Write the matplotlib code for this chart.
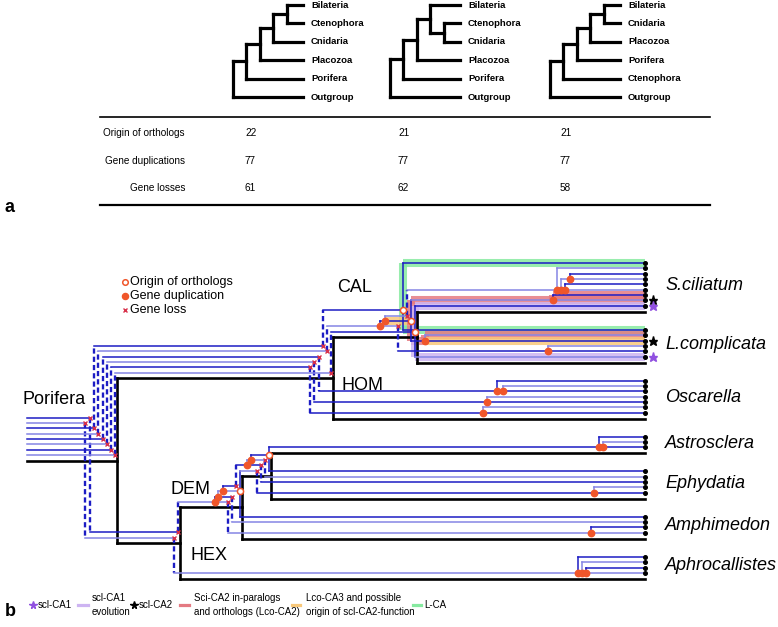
import matplotlib.pyplot as plt

plt.rcParams['font.family'] = ['Liberation Sans', 'DejaVu Sans']

# ---------------- panel a: three species trees + event table ----------------
tree_a1 = ((((('Bilateria', 'Ctenophora'), 'Cnidaria'), 'Placozoa'), 'Porifera'), 'Outgroup')
tree_a2 = (((('Bilateria', ('Ctenophora', 'Cnidaria')), 'Placozoa'), 'Porifera'), 'Outgroup')
tree_a3 = ((((('Bilateria', 'Cnidaria'), 'Placozoa'), 'Porifera'), 'Ctenophora'), 'Outgroup')
row_labels = ['Origin of orthologs', 'Gene duplications', 'Gene losses']
origin_counts = [22, 21, 21]
dup_counts = [77, 77, 77]
loss_counts = [61, 62, 58]

# ---------------- panel b: reconciled gene tree ----------------
# species tree: (name, upper child, lower child)
species_tree = ('Porifera',
                ('HC', ('CAL', 'S.ciliatum', 'L.complicata'), 'Oscarella'),
                ('DH', ('DEM', ('AE', 'Astrosclera', 'Ephydatia'), 'Amphimedon'), 'Aphrocallistes'))
clade_labels = ['Porifera', 'CAL', 'HOM', 'DEM', 'HEX']


# gene tree building blocks: tip, duplication (at x), speciation (upper child, lower child; None = loss)
def tip(mark=None, hl=None):
    return dict(k='T', mark=mark, hl=hl)


def dup(x, a, b, hl=None):
    return dict(k='D', x=x, a=a, b=b, hl=hl)


def spec(up, low, hl=None):
    return dict(k='S', up=up, low=low, hl=hl)


# calcarea
sci_paralogs = dup(557, tip(), dup(561, dup(570, tip(), tip()), dup(565, tip(), tip())))
cal_lca = spec(tip(hl='green'), tip(hl='green'))
cal_ca2 = spec(dup(553, tip(), tip('star'), hl='red'),
               dup(425, tip(), tip('star', hl='orange'), hl='red'), hl='orange')
cal_lco = spec(None, dup(548, tip(), tip()))
cal_ca1 = spec(tip('pstar', hl='purple'), tip('pstar', hl='purple'))
cal_family = dup(380, dup(385, spec(sci_paralogs, None), cal_ca2), cal_lco)
# homoscleromorpha
osc1 = dup(497, tip(), dup(503, tip(), tip()))
osc2 = dup(487, tip(), tip())
osc3 = dup(483, tip(), tip())
# demospongiae
astro = dup(599, tip(), dup(603, tip(), tip()))
ae_family = dup(247, dup(251, spec(astro, tip()), spec(None, tip())), spec(None, tip()))
dem_family = dup(215, dup(218, dup(223, spec(ae_family, None),
                                   spec(spec(None, dup(594, tip(), tip())), tip())),
                              spec(None, tip())),
                 spec(None, dup(591, tip(), tip())))
# hexactinellida
hex_family = dup(578, tip(), dup(582, tip(), dup(586, tip(), tip())))

hc_genes = [spec(cal_lca, None), spec(cal_family, None), spec(None, osc1),
            spec(None, osc2), spec(None, osc3), spec(cal_ca1, None)]
root_genes = [spec(None, spec(dem_family, None)), spec(None, spec(None, hex_family))] + \
             [spec(h, None) for h in hc_genes]

# ---------------- layout constants ----------------
S = 5.35
TIP_X = 645
ROOT_X0 = 27
node_x = {'Porifera': 117, 'HC': 333, 'CAL': 417, 'DH': 180, 'DEM': 242, 'AE': 271}
label_pos = {'Porifera': (23, 400), 'CAL': (337, 288), 'HOM': (342, 385),
             'DEM': (171, 489), 'HEX': (191, 556)}
DARK = '#1c1cc4'
LIGHT = '#8585e4'
DUPC = '#f0562a'
BAND = {'green': '#86eaa0', 'red': '#e47a82', 'orange': '#f8c87a', 'purple': '#cdb4f2'}
PURPLE = '#9050e0'

fig = plt.figure(figsize=(7.78, 6.27), dpi=100)
ax = fig.add_axes([0, 0, 1, 1])
ax.set_xlim(0, 778)
ax.set_ylim(627, 0)
ax.axis('off')


# ---------- panel a ----------
def draw_small_tree(tree, root_x, step=13.5, width=70):
    leaves = []

    def walk(t, depth):
        if isinstance(t, str):
            y = 5 + len(leaves) * 18.4
            leaves.append(t)
            ax.text(root_x + width + 8, y, t, fontsize=6.8, fontweight='bold', va='center')
            return root_x + width, y
        nx = root_x + depth * step
        pts = [walk(c, depth + 1) for c in t]
        for cx, cy in pts:
            ax.plot([nx, cx], [cy, cy], color='black', lw=2.3, solid_capstyle='projecting')
        ax.plot([nx, nx], [pts[0][1], pts[-1][1]], color='black', lw=2.3,
                solid_capstyle='projecting')
        return nx, (pts[0][1] + pts[-1][1]) / 2

    walk(tree, 0)


for tr, rx in zip([tree_a1, tree_a2, tree_a3], [233, 390, 550]):
    draw_small_tree(tr, rx)

ax.plot([100, 710], [117, 117], color='black', lw=1.2)
ax.plot([100, 710], [205, 205], color='black', lw=1.6)
for i, lab in enumerate(row_labels):
    y = 133 + i * 27.5
    ax.text(185, y, lab, fontsize=7.2, ha='right', va='center')
    for cx, v in zip([245, 398, 560], [origin_counts, dup_counts, loss_counts][i]):
        ax.text(cx, y, str(v), fontsize=7.2, ha='left', va='center')
ax.text(5, 207, 'a', fontsize=13, fontweight='bold', va='center')

# ---------- panel b: layout ----------
info = {}


def make_branch(t, x0):
    if isinstance(t, str):
        info[t] = dict(x0=x0, x1=TIP_X, leaf=True, ends=[])
        return t
    name, up, low = t
    info[name] = dict(x0=x0, x1=node_x[name], leaf=False, ends=[])
    info[name]['up'] = make_branch(up, node_x[name])
    info[name]['low'] = make_branch(low, node_x[name])
    return name


make_branch(species_tree, ROOT_X0)


def collect(g, br):
    if g['k'] == 'D':
        collect(g['a'], br)
        collect(g['b'], br)
        return
    info[br]['ends'].append(g)
    if g['k'] == 'S':
        if g['up'] is not None:
            collect(g['up'], info[br]['up'])
        if g['low'] is not None:
            collect(g['low'], info[br]['low'])


for g in root_genes:
    collect(g, 'Porifera')

leaf_order = []


def leaves_of(t):
    if isinstance(t, str):
        leaf_order.append(t)
    else:
        leaves_of(t[1])
        leaves_of(t[2])


leaves_of(species_tree)
cursor = 263
for lf in leaf_order:
    ends = info[lf]['ends']
    for i, g in enumerate(ends):
        g['y'] = cursor + i * S
        g['i'] = i
    info[lf]['black'] = cursor + (len(ends) - 1) * S + 6
    cursor = info[lf]['black'] + 18


def set_black(t):
    if isinstance(t, str):
        return info[t]['black']
    b = (set_black(t[1]) + set_black(t[2])) / 2
    info[t[0]]['black'] = b
    return b


set_black(species_tree)

for name, br in info.items():
    if br['leaf']:
        continue
    ends = br['ends']
    n = len(ends)
    for i, g in enumerate(ends):
        g['y'] = br['black'] - S * (n - i)
        g['i'] = i
    down = sorted([g for g in ends if g['up'] is None], key=lambda g: -g['y'])
    order = down + [g for g in ends if g['up'] is not None]
    for r, g in enumerate(order):
        g['x'] = br['x1'] - 1.5 - 4.3 * (n - 1 - r)


def bottom(g):
    while g['k'] == 'D':
        g = g['b']
    return g


# ---------- panel b: species tree (black) ----------
def draw_species(t):
    name = t if isinstance(t, str) else t[0]
    br = info[name]
    ax.plot([br['x0'], br['x1']], [br['black'], br['black']], color='black', lw=1.9,
            solid_capstyle='projecting', zorder=3)
    if not isinstance(t, str):
        ax.plot([br['x1'], br['x1']], [info[br['up']]['black'], info[br['low']]['black']],
                color='black', lw=1.9, solid_capstyle='projecting', zorder=3)
        draw_species(t[1])
        draw_species(t[2])


draw_species(species_tree)

marks = {'dup': [], 'loss': [], 'orig': [], 'tip': [], 'star': [], 'pstar': []}


def band(xs, ys, hl):
    if hl:
        ax.plot(xs, ys, color=BAND[hl], lw=5.8, alpha=0.85, solid_capstyle='butt', zorder=1)


def draw_gene(g, br, x0, hl_in):
    hl = g['hl'] if g.get('hl') else hl_in
    end = bottom(g)
    y = end['y']
    col = DARK if end['i'] % 2 == 0 else LIGHT
    x1 = TIP_X if g['k'] == 'T' else g['x']
    band([x0, x1], [y, y], hl)
    ax.plot([x0, x1], [y, y], color=col, lw=1.1, zorder=4)
    if g['k'] == 'T':
        marks['tip'].append((TIP_X, y))
        if g['mark']:
            marks[g['mark']].append((TIP_X + 8, y))
    elif g['k'] == 'D':
        ya = bottom(g['a'])['y']
        acol = DARK if bottom(g['a'])['i'] % 2 == 0 else LIGHT
        band([x1, x1], [y, ya], hl)
        ax.plot([x1, x1], [y, ya], color=acol, lw=1.1, zorder=4)
        marks['dup'].append((x1, y))
        draw_gene(g['a'], br, x1, hl)
        draw_gene(g['b'], br, x1, hl)
    else:
        up, low = g['up'], g['low']
        if up is not None and low is not None:
            yu, yl = bottom(up)['y'], bottom(low)['y']
            if up.get('hl') and up.get('hl') == low.get('hl'):
                band([x1, x1], [yu, yl], up['hl'])
            elif hl and not up.get('hl') and not low.get('hl'):
                band([x1, x1], [yu, yl], hl)
            ax.plot([x1, x1], [yu, yl], color=DARK, lw=1.1, zorder=4)
            marks['orig'].append((x1, y))
            draw_gene(up, info[br]['up'], x1, hl)
            draw_gene(low, info[br]['low'], x1, hl)
        else:
            child = up if up is not None else low
            cbr = info[br]['up'] if up is not None else info[br]['low']
            yc = bottom(child)['y']
            ax.plot([x1, x1], [y, yc], color=DARK, lw=1.7, ls=(0, (2.2, 1.3)), zorder=4)
            marks['loss'].append((x1, y))
            draw_gene(child, cbr, x1, hl)


for g in root_genes:
    draw_gene(g, 'Porifera', ROOT_X0, None)


def pts(key):
    return [p[0] for p in marks[key]], [p[1] for p in marks[key]]


ax.plot(*pts('tip'), ls='none', marker='o', ms=2.6, color='black', zorder=6)
ax.plot(*pts('dup'), ls='none', marker='o', ms=4.6, color=DUPC, zorder=6)
ax.plot(*pts('orig'), ls='none', marker='o', ms=4.4, mfc='white', mec=DUPC, mew=1.1, zorder=6)
ax.plot(*pts('loss'), ls='none', marker='x', ms=3.2, mew=1.0, color='#d8304a', zorder=6)
ax.plot(*pts('star'), ls='none', marker='*', ms=6.5, color='black', zorder=6)
ax.plot(*pts('pstar'), ls='none', marker='*', ms=6.5, color=PURPLE, zorder=6)

# labels
for lf in leaf_order:
    ys = [g['y'] for g in info[lf]['ends']]
    ax.text(665, (ys[0] + ys[-1]) / 2 + 1, lf, fontsize=13, style='italic', va='center')
for lab in clade_labels:
    ax.text(*label_pos[lab], lab, fontsize=13, va='center')

# event legend (top-left of b)
ax.plot([125], [282], ls='none', marker='o', ms=4, mfc='white', mec=DUPC, mew=1.1)
ax.plot([125], [296], ls='none', marker='o', ms=4.4, color=DUPC)
ax.plot([125], [310], ls='none', marker='x', ms=3.2, mew=1.0, color='#d8304a')
for y, t in zip([282, 296, 310], ['Origin of orthologs', 'Gene duplication', 'Gene loss']):
    ax.text(130, y, t, fontsize=9, va='center')

# bottom legend
LF = 7
ax.text(5, 612, 'b', fontsize=13, fontweight='bold', va='center')
ax.plot([33], [605], ls='none', marker='*', ms=5.5, color=PURPLE)
ax.text(38, 605, 'scl-CA1', fontsize=LF, va='center')
ax.plot([78, 88], [605, 605], color=BAND['purple'], lw=2.3)
ax.text(92, 605, 'scl-CA1\nevolution', fontsize=LF, va='center', linespacing=1.45)
ax.plot([134], [605], ls='none', marker='*', ms=5.5, color='black')
ax.text(139, 605, 'scl-CA2', fontsize=LF, va='center')
ax.plot([180, 189], [605, 605], color=BAND['red'], lw=2.3)
ax.text(194, 605, 'Sci-CA2 in-paralogs\nand orthologs (Lco-CA2)', fontsize=LF, va='center',
        linespacing=1.45)
ax.plot([292, 300], [605, 605], color=BAND['orange'], lw=2.3)
ax.text(306, 605, 'Lco-CA3 and possible\norigin of scl-CA2-function', fontsize=LF,
        va='center', linespacing=1.45)
ax.plot([413, 421], [605, 605], color=BAND['green'], lw=2.3)
ax.text(424, 605, 'L-CA', fontsize=LF, va='center')

fig.savefig('out.png', dpi=100)
